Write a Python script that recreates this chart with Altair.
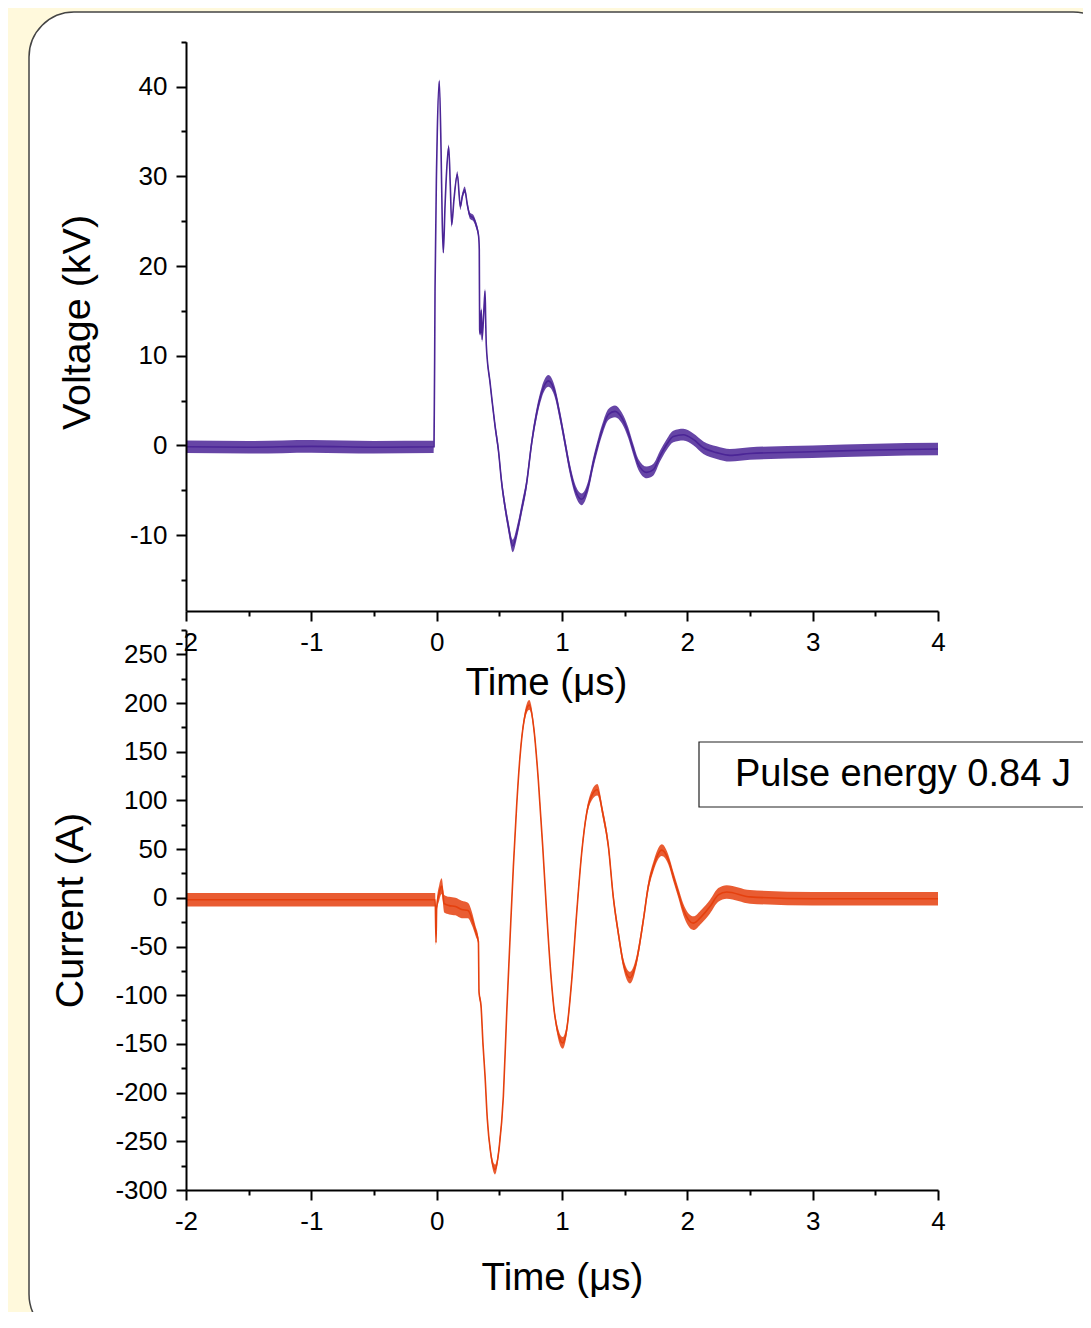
import altair as alt
import pandas as pd

# ---------------- data ----------------
# Voltage trace (time in microseconds, kV), with half-width of the noise band
v_t = [-2.0, -1.5, -1.0, -0.5, -0.021, -0.013, -0.001, 0.005, 0.021, 0.035, 0.045, 0.053,
       0.067, 0.080, 0.096, 0.109, 0.120, 0.138, 0.165, 0.189, 0.205, 0.224, 0.245, 0.266,
       0.290, 0.314, 0.335, 0.340, 0.343, 0.348, 0.356, 0.362, 0.375, 0.386, 0.391, 0.396,
       0.426, 0.441, 0.466, 0.492, 0.519, 0.545, 0.572, 0.607, 0.643, 0.678, 0.718, 0.758,
       0.798, 0.838, 0.891, 0.944, 0.984, 1.024, 1.064, 1.104, 1.157, 1.210, 1.250, 1.290,
       1.330, 1.370, 1.423, 1.476, 1.529, 1.569, 1.609, 1.676, 1.729, 1.782, 1.835, 1.888,
       1.968, 2.048, 2.128, 2.234, 2.340, 2.5, 3.0, 3.5, 4.0]
v_kv = [-0.15, -0.2, -0.1, -0.2, -0.15, 17.4, 30.7, 35.0, 40.6, 33.0, 24.6, 21.5,
        26.8, 30.7, 33.3, 28.9, 24.6, 27.4, 30.2, 26.6, 27.8, 28.5, 26.8, 25.6,
        25.4, 24.6, 23.3, 21.8, 12.9, 12.4, 15.1, 11.8, 14.6, 17.2, 14.0, 11.2,
        7.0, 5.1, 2.15, -0.45, -4.2, -6.8, -9.0, -11.2, -9.5, -7.1, -4.2, 0.3,
        3.6, 5.9, 7.2, 5.9, 3.3, 0.3, -2.7, -4.9, -6.0, -4.5, -1.9, 0.3,
        2.15, 3.45, 3.8, 3.1, 1.4, -0.45, -2.1, -3.0, -2.7, -1.2, 0.1, 1.0,
        1.2, 0.67, -0.26, -0.8, -1.1, -0.9, -0.7, -0.5, -0.4]
v_noise = [0.7, 0.7, 0.7, 0.7, 0.7, 0.2, 0.2, 0.2, 0.2, 0.2, 0.2, 0.2,
           0.25, 0.25, 0.25, 0.25, 0.3, 0.3, 0.35, 0.35, 0.35, 0.35, 0.35, 0.35,
           0.35, 0.35, 0.3, 0.3, 0.3, 0.3, 0.3, 0.3, 0.3, 0.3, 0.3, 0.3,
           0.4, 0.45, 0.5, 0.55, 0.6, 0.6, 0.65, 0.7, 0.65, 0.6, 0.6, 0.6,
           0.6, 0.6, 0.65, 0.6, 0.6, 0.6, 0.6, 0.6, 0.65, 0.6, 0.6, 0.6,
           0.6, 0.6, 0.65, 0.6, 0.6, 0.6, 0.6, 0.65, 0.65, 0.6, 0.6, 0.65,
           0.65, 0.65, 0.7, 0.7, 0.7, 0.7, 0.7, 0.7, 0.7]

# Current trace (time in microseconds, A), with half-width of the noise band
i_t = [-2.0, -1.0, -0.012, -0.005, 0.000, 0.020, 0.040, 0.060, 0.100, 0.150, 0.200, 0.250,
       0.280, 0.310, 0.333, 0.338, 0.354, 0.370, 0.386, 0.404, 0.431, 0.466, 0.500, 0.532,
       0.559, 0.585, 0.612, 0.638, 0.665, 0.697, 0.739, 0.777, 0.811, 0.846, 0.878, 0.910,
       0.944, 1.006, 1.038, 1.078, 1.117, 1.157, 1.197, 1.237, 1.282, 1.325, 1.370, 1.409,
       1.449, 1.489, 1.543, 1.596, 1.649, 1.689, 1.729, 1.796, 1.849, 1.888, 1.928, 1.968,
       2.048, 2.114, 2.181, 2.247, 2.314, 2.5, 3.0, 3.5, 4.0]
i_a = [-2, -2, -2, -46, -10, 5, 12, -6, -8, -9, -12, -13,
       -21, -34, -45, -97, -111, -151, -183, -227, -262, -279, -255, -204,
       -118, -43, 32, 94, 145, 182, 198, 172, 121, 53, -16, -77,
       -122, -149, -135, -84, -16, 46, 87, 105, 111, 87, 53, 1,
       -36, -67, -82, -64, -23, 12, 32, 49, 39, 22, 5, -12,
       -26, -19, -9, 3, 6, 1, -1, -1, -1]
i_noise = [7, 7, 7, 3, 5, 8, 8, 9, 9, 9, 9, 8,
           7, 5, 4, 3, 3, 3, 3, 3, 4, 5, 4, 3,
           3, 3, 3, 3, 3, 4, 5, 4, 3, 3, 3, 3,
           4, 6, 5, 4, 4, 4, 4, 5, 6, 5, 5, 5,
           5, 5, 6, 5, 5, 5, 5, 6, 5, 5, 5, 6,
           7, 7, 7, 7, 7, 7, 7, 7, 7]

x_ticks = [-2, -1.5, -1, -0.5, 0, 0.5, 1, 1.5, 2, 2.5, 3, 3.5, 4]
v_ticks = [-15, -10, -5, 0, 5, 10, 15, 20, 25, 30, 35, 40, 45]
i_ticks = [-300, -275, -250, -225, -200, -175, -150, -125, -100, -75, -50, -25, 0,
           25, 50, 75, 100, 125, 150, 175, 200, 225, 250, 275]

energy_label = "Pulse energy 0.84 J"
x_title = "Time (\u03bcs)"
v_title = "Voltage (kV)"
i_title = "Current (A)"

# ---------------- layout (pixels) ----------------
W, H = 1075, 1304
FONT = "Liberation Sans"
X_RANGE = [178, 930]
V_RANGE = [603, 33.7]
I_RANGE = [1182, 622]
V_COLOR = "#4b2596"
I_COLOR = "#e5400e"

vdf = pd.DataFrame({"t": v_t, "v": v_kv, "n": v_noise})
vdf["lo"] = vdf["v"] - vdf["n"]
vdf["hi"] = vdf["v"] + vdf["n"]
idf = pd.DataFrame({"t": i_t, "a": i_a, "n": i_noise})
idf["lo"] = idf["a"] - idf["n"]
idf["hi"] = idf["a"] + idf["n"]

common_axis = dict(
    labelFont=FONT, labelFontSize=26, labelColor="black",
    titleFont=FONT, titleFontWeight="normal", titleColor="black",
    domainColor="black", domainWidth=2, tickColor="black", tickWidth=2,
    grid=False, labelOverlap=False, labelFlush=False, labelBound=False, zindex=1,
)


def x_axis(offset, title_y, title_x):
    return alt.Axis(
        orient="bottom", offset=offset, values=x_ticks,
        labelExpr="datum.value % 1 === 0 ? toString(datum.value) : ''",
        tickSize={"expr": "datum.value % 1 === 0 ? 10 : 5"},
        labelPadding=8,
        title=x_title, titleX=title_x, titleY=title_y, titleBaseline="middle",
        titleAlign="center", titleFontSize=38.5,
        **common_axis,
    )


def y_axis(step, values, title, title_x, title_y):
    return alt.Axis(
        orient="left", offset=-X_RANGE[0], values=values,
        labelExpr=f"datum.value % {step} === 0 ? toString(datum.value) : ''",
        tickSize={"expr": f"datum.value % {step} === 0 ? 10 : 5"},
        labelPadding=9,
        title=title, titleX=title_x, titleY=title_y, titleAngle=270,
        titleBaseline="middle", titleAlign="center", titleFontSize=39.5,
        **common_axis,
    )


x_scale = alt.Scale(domain=[-2, 4], range=X_RANGE, nice=False, zero=False)
v_scale = alt.Scale(domain=[-18.45, 45], range=V_RANGE, nice=False, zero=False)
i_scale = alt.Scale(domain=[-300, 275], range=I_RANGE, nice=False, zero=False)
xv_axis = x_axis(603 - H, 71, 538)
xi_axis = x_axis(1182 - H, 87, 554)
yv_axis = y_axis(10, v_ticks, v_title, -109, 314)
yi_axis = y_axis(50, i_ticks, i_title, -116, 902)

vbase = alt.Chart(vdf)
v_band = vbase.mark_area(color=V_COLOR, opacity=0.85, interpolate="monotone").encode(
    x=alt.X("t:Q", scale=x_scale, axis=xv_axis),
    y=alt.Y("lo:Q", scale=v_scale, axis=yv_axis),
    y2="hi:Q")
v_line = vbase.mark_line(color=V_COLOR, strokeWidth=1.6, interpolate="monotone").encode(
    x=alt.X("t:Q", scale=x_scale, axis=xv_axis),
    y=alt.Y("v:Q", scale=v_scale, axis=yv_axis))
v_chart = alt.layer(v_band, v_line)

ibase = alt.Chart(idf)
i_band = ibase.mark_area(color=I_COLOR, opacity=0.85, interpolate="monotone").encode(
    x=alt.X("t:Q", scale=x_scale, axis=xi_axis),
    y=alt.Y("lo:Q", scale=i_scale, axis=yi_axis),
    y2="hi:Q")
i_line = ibase.mark_line(color=I_COLOR, strokeWidth=1.6, interpolate="monotone").encode(
    x=alt.X("t:Q", scale=x_scale, axis=xi_axis),
    y=alt.Y("a:Q", scale=i_scale, axis=yi_axis))
i_chart = alt.layer(i_band, i_line)

one = pd.DataFrame({"label": [energy_label]})
panel = alt.Chart(one).mark_rect(
    fill="white", stroke="#444444", strokeWidth=1.5, cornerRadius=45, clip=True
).encode(x=alt.value(21), x2=alt.value(1110), y=alt.value(4), y2=alt.value(1331))

box = alt.Chart(one).mark_rect(
    fill="white", stroke="#222222", strokeWidth=1.2, clip=True
).encode(x=alt.value(691), x2=alt.value(1120), y=alt.value(734), y2=alt.value(799))
box_text = alt.Chart(one).mark_text(
    align="left", baseline="middle", font=FONT, fontSize=38, color="black"
).encode(x=alt.value(727), y=alt.value(767), text="label:N")

chart = alt.layer(panel, box, box_text, v_chart, i_chart).resolve_scale(
    x="independent", y="independent"
).properties(
    width=W, height=H, padding=0,
    autosize=alt.AutoSizeParams(type="none"),
    background="#fff9dc",
).configure_view(stroke=None)

chart.save("out.html", embed_options={"renderer": "svg", "actions": False})
